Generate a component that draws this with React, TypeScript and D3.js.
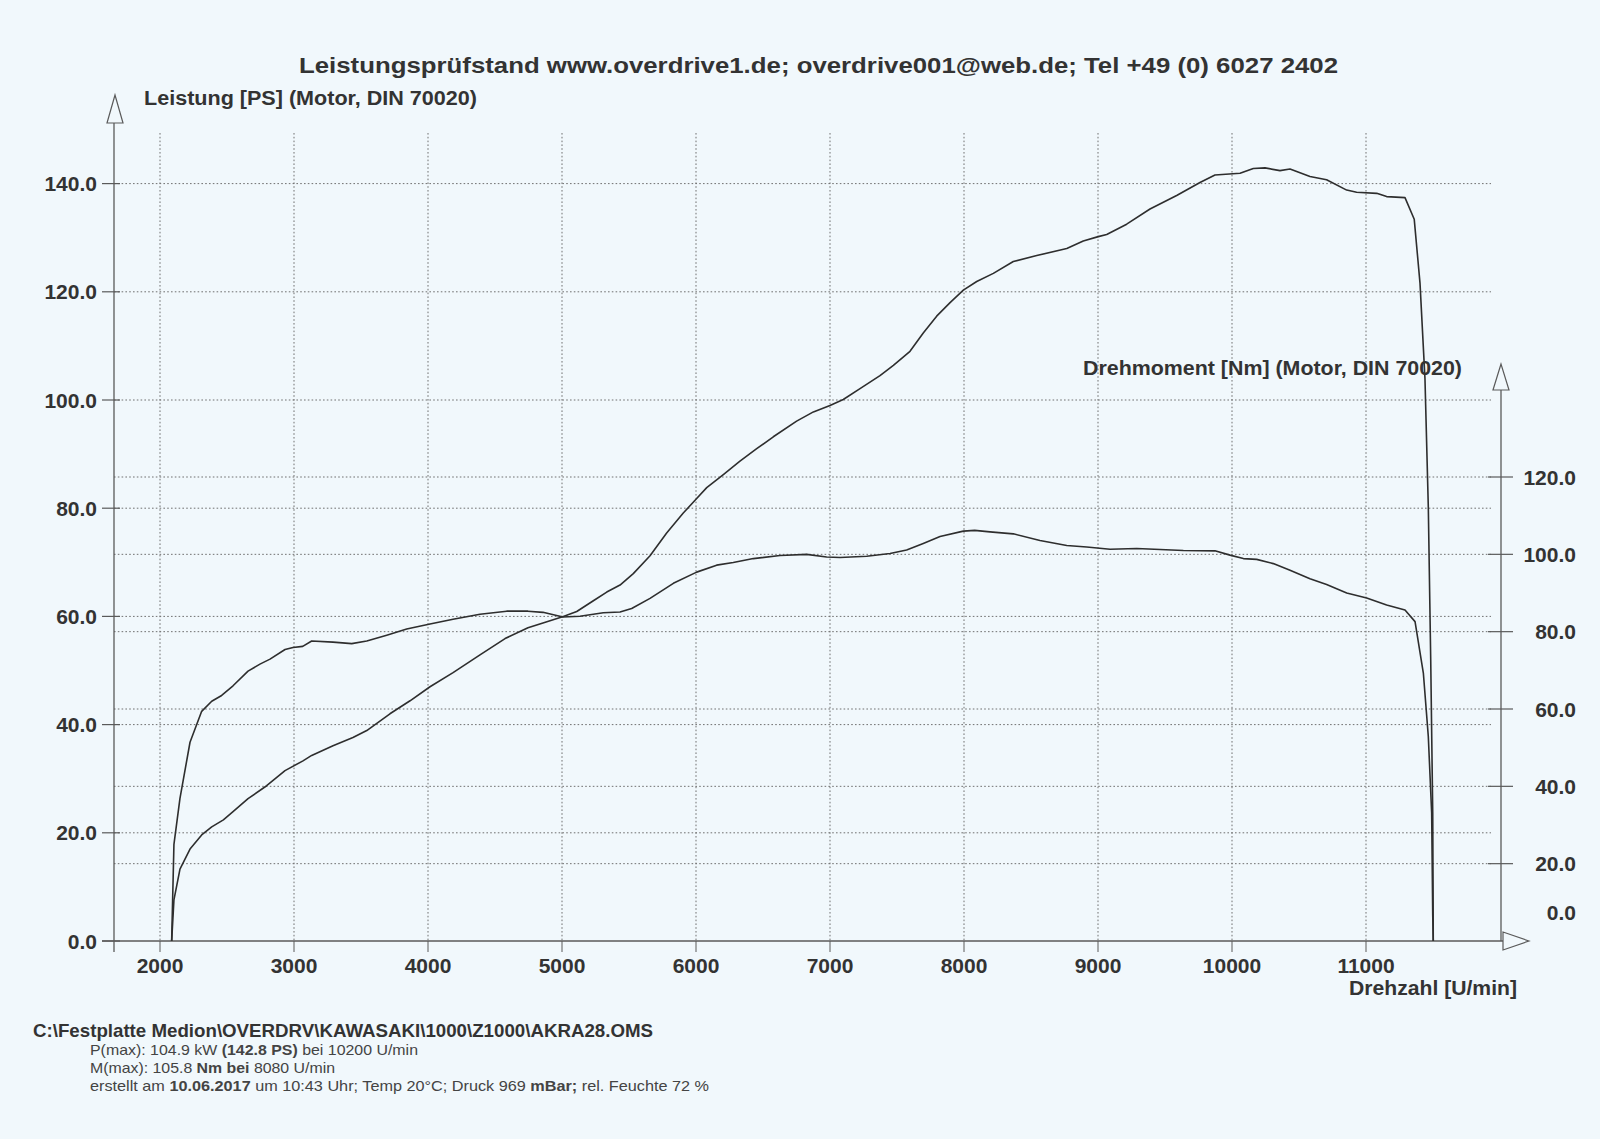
import React from "react";
import * as d3 from "d3";

// ---- data ----
const rpmTicks = [2000, 3000, 4000, 5000, 6000, 7000, 8000, 9000, 10000, 11000];
const psTicks = [0, 20, 40, 60, 80, 100, 120, 140];
const nmTicks = [0, 20, 40, 60, 80, 100, 120];

const powerRpm = [2087, 2104, 2149, 2224, 2311, 2386, 2473, 2545, 2657, 2796, 2933, 3067, 3132, 3291, 3440, 3543, 3716, 3866, 4015, 4187, 4388, 4575, 4746, 4858, 5010, 5110, 5234, 5334, 5433, 5532, 5657, 5781, 5905, 6005, 6080, 6204, 6328, 6453, 6577, 6751, 6876, 7000, 7099, 7224, 7373, 7473, 7597, 7696, 7796, 7896, 7995, 8095, 8219, 8368, 8543, 8767, 8890, 9002, 9065, 9214, 9388, 9587, 9761, 9873, 10060, 10159, 10246, 10358, 10433, 10582, 10706, 10856, 10930, 11080, 11154, 11291, 11360, 11403, 11440, 11465, 11483, 11498, 11502];
const powerPS = [0, 7.6, 13.3, 17.0, 19.6, 21.1, 22.4, 23.9, 26.3, 28.7, 31.5, 33.3, 34.3, 36.1, 37.6, 38.9, 42.0, 44.4, 47.0, 49.6, 52.9, 55.9, 57.9, 58.8, 60.0, 60.9, 62.9, 64.5, 65.8, 67.9, 71.2, 75.4, 79.1, 81.8, 83.8, 86.2, 88.7, 91.0, 93.2, 96.1, 97.8, 99.0, 100.1, 102.1, 104.5, 106.4, 109.0, 112.4, 115.5, 118.0, 120.3, 121.9, 123.4, 125.6, 126.7, 128.0, 129.4, 130.2, 130.6, 132.5, 135.3, 137.8, 140.2, 141.6, 141.9, 142.8, 142.9, 142.4, 142.7, 141.3, 140.7, 138.8, 138.4, 138.2, 137.6, 137.4, 133.4, 121.6, 104.0, 80.2, 52.0, 23.7, 0];

const torqueRpm = [2087, 2104, 2149, 2224, 2311, 2386, 2460, 2545, 2657, 2746, 2821, 2933, 2993, 3065, 3132, 3291, 3431, 3543, 3692, 3841, 4015, 4187, 4388, 4587, 4746, 4858, 5007, 5134, 5308, 5433, 5520, 5657, 5831, 6005, 6154, 6278, 6428, 6627, 6826, 6975, 7075, 7274, 7448, 7572, 7696, 7821, 7995, 8080, 8194, 8368, 8567, 8767, 8916, 9090, 9289, 9637, 9873, 9985, 10085, 10184, 10308, 10433, 10582, 10706, 10856, 11005, 11154, 11291, 11366, 11428, 11465, 11490, 11498, 11502];
const torqueNm = [0, 25.0, 36.9, 51.4, 59.4, 62.0, 63.5, 66.0, 69.8, 71.6, 72.9, 75.4, 75.9, 76.2, 77.6, 77.3, 76.9, 77.6, 79.1, 80.7, 82.0, 83.2, 84.5, 85.3, 85.3, 85.0, 83.8, 84.0, 84.9, 85.1, 86.0, 88.6, 92.5, 95.4, 97.2, 97.9, 98.9, 99.7, 100.0, 99.3, 99.2, 99.5, 100.2, 101.1, 102.8, 104.6, 106.0, 106.2, 105.8, 105.3, 103.6, 102.3, 101.9, 101.3, 101.5, 101.0, 100.9, 99.8, 98.9, 98.7, 97.6, 95.9, 93.7, 92.2, 90.0, 88.7, 86.9, 85.6, 82.6, 69.3, 52.9, 33.1, 6.7, 0];

const titleText = "Leistungsprüfstand www.overdrive1.de; overdrive001@web.de; Tel +49 (0) 6027 2402";
const leftAxisTitle = "Leistung [PS] (Motor, DIN 70020)";
const rightAxisTitle = "Drehmoment [Nm] (Motor, DIN 70020)";
const xAxisTitle = "Drehzahl [U/min]";
const fileLine = "C:\\Festplatte Medion\\OVERDRV\\KAWASAKI\\1000\\Z1000\\AKRA28.OMS";

// ---- layout ----
const W = 1600;
const H = 1139;
const BG = "#f1f8fc";
const INK = "#2e2e2e";
const GRID = "#707070";
const AXIS = "#5a5a5a";
const FONT = "'Liberation Sans', Arial, sans-serif";

const leftAxisX = 114;
const rightAxisX = 1501;
const gridRight = 1491;
const gridTop = 133;
const baseY = 941;

export default function App() {
  const x = d3.scaleLinear().domain([2000, 11000]).range([160, 1366]);
  const yPS = d3.scaleLinear().domain([0, 140]).range([baseY, 183.6]);
  const yNm = d3.scaleLinear().domain([0, 120]).range([baseY, 477]);

  const powerLine = d3
    .line<number>()
    .x((_, i) => x(powerRpm[i]))
    .y((d) => yPS(d))
    .curve(d3.curveLinear);
  const torqueLine = d3
    .line<number>()
    .x((_, i) => x(torqueRpm[i]))
    .y((d) => yNm(d))
    .curve(d3.curveLinear);

  const dash = "1.6,2.2";

  return (
    <svg
      width={W}
      height={H}
      viewBox={`0 0 ${W} ${H}`}
      style={{ position: "absolute", left: 0, top: 0, display: "block" }}
      fontFamily={FONT}
    >
      <rect x={0} y={0} width={W} height={H} fill={BG} />

      {/* vertical grid */}
      {rpmTicks.map((t) => (
        <g key={"vx" + t}>
          <line x1={x(t)} x2={x(t)} y1={gridTop} y2={baseY} stroke={GRID} strokeWidth={1} strokeDasharray={dash} />
          <line x1={x(t)} x2={x(t)} y1={baseY} y2={952} stroke={AXIS} strokeWidth={1} />
          <text x={x(t)} y={973} textAnchor="middle" fontSize={21} fontWeight="bold" fill="#333">
            {t}
          </text>
        </g>
      ))}

      {/* PS grid + ticks */}
      {psTicks.map((t) => (
        <g key={"ps" + t}>
          {t > 0 && (
            <line x1={leftAxisX} x2={gridRight} y1={yPS(t)} y2={yPS(t)} stroke={GRID} strokeWidth={1} strokeDasharray={dash} />
          )}
          <line x1={102} x2={120} y1={yPS(t)} y2={yPS(t)} stroke={AXIS} strokeWidth={1.2} />
          <text x={97} y={yPS(t) + 7.5} textAnchor="end" fontSize={21} fontWeight="bold" fill="#333">
            {t.toFixed(1)}
          </text>
        </g>
      ))}

      {/* Nm grid + ticks */}
      {nmTicks.map((t) => (
        <g key={"nm" + t}>
          {t > 0 && (
            <>
              <line x1={leftAxisX} x2={gridRight} y1={yNm(t)} y2={yNm(t)} stroke={GRID} strokeWidth={1} strokeDasharray={dash} />
              <line x1={1488} x2={1513} y1={yNm(t)} y2={yNm(t)} stroke={AXIS} strokeWidth={1.2} />
            </>
          )}
          <text
            x={1576}
            y={yNm(t) + 7.5 - (t === 0 ? 29 : 0)}
            textAnchor="end"
            fontSize={21}
            fontWeight="bold"
            fill="#333"
          >
            {t.toFixed(1)}
          </text>
        </g>
      ))}

      {/* axes */}
      <line x1={leftAxisX} x2={leftAxisX} y1={123} y2={952} stroke={AXIS} strokeWidth={1.3} />
      <polygon points={`115,95 107,123 123,123`} fill={BG} stroke={AXIS} strokeWidth={1.2} />
      <line x1={rightAxisX} x2={rightAxisX} y1={390} y2={baseY} stroke={AXIS} strokeWidth={1.3} />
      <polygon points={`1501,364 1493,390 1509,390`} fill={BG} stroke={AXIS} strokeWidth={1.2} />
      <line x1={102} x2={1503} y1={baseY} y2={baseY} stroke={AXIS} strokeWidth={1.3} />
      <polygon points={`1529,941 1503,932 1503,950`} fill={BG} stroke={AXIS} strokeWidth={1.2} />

      {/* curves */}
      <path d={powerLine(powerPS) || ""} fill="none" stroke={INK} strokeWidth={1.6} strokeLinejoin="round" />
      <path d={torqueLine(torqueNm) || ""} fill="none" stroke={INK} strokeWidth={1.6} strokeLinejoin="round" />

      {/* titles */}
      <text x={299} y={73} fontSize={22} fontWeight="bold" fill="#333" textLength={1039} lengthAdjust="spacingAndGlyphs">
        {titleText}
      </text>
      <text x={144} y={105} fontSize={20} fontWeight="bold" fill="#333" textLength={333} lengthAdjust="spacingAndGlyphs">
        {leftAxisTitle}
      </text>
      <text x={1083} y={375} fontSize={20} fontWeight="bold" fill="#333" textLength={379} lengthAdjust="spacingAndGlyphs">
        {rightAxisTitle}
      </text>
      <text x={1349} y={995} fontSize={21} fontWeight="bold" fill="#333" textLength={168} lengthAdjust="spacingAndGlyphs">
        {xAxisTitle}
      </text>

      {/* footer */}
      <text x={33} y={1037} fontSize={19} fontWeight="bold" fill="#333" textLength={620} lengthAdjust="spacingAndGlyphs">
        {fileLine}
      </text>
      <text x={90} y={1055} fontSize={14.5} fill="#444" textLength={328} lengthAdjust="spacingAndGlyphs">
        <tspan>P(max): 104.9 kW </tspan>
        <tspan fontWeight="bold">(142.8 PS)</tspan>
        <tspan> bei 10200 U/min</tspan>
      </text>
      <text x={90} y={1073} fontSize={14.5} fill="#444" textLength={245} lengthAdjust="spacingAndGlyphs">
        <tspan>M(max): 105.8 </tspan>
        <tspan fontWeight="bold">Nm bei</tspan>
        <tspan> 8080 U/min</tspan>
      </text>
      <text x={90} y={1091} fontSize={14.5} fill="#444" textLength={619} lengthAdjust="spacingAndGlyphs">
        <tspan>erstellt am </tspan>
        <tspan fontWeight="bold">10.06.2017</tspan>
        <tspan> um 10:43 Uhr; Temp 20°C; Druck 969 </tspan>
        <tspan fontWeight="bold">mBar;</tspan>
        <tspan> rel. Feuchte 72 %</tspan>
      </text>
    </svg>
  );
}
